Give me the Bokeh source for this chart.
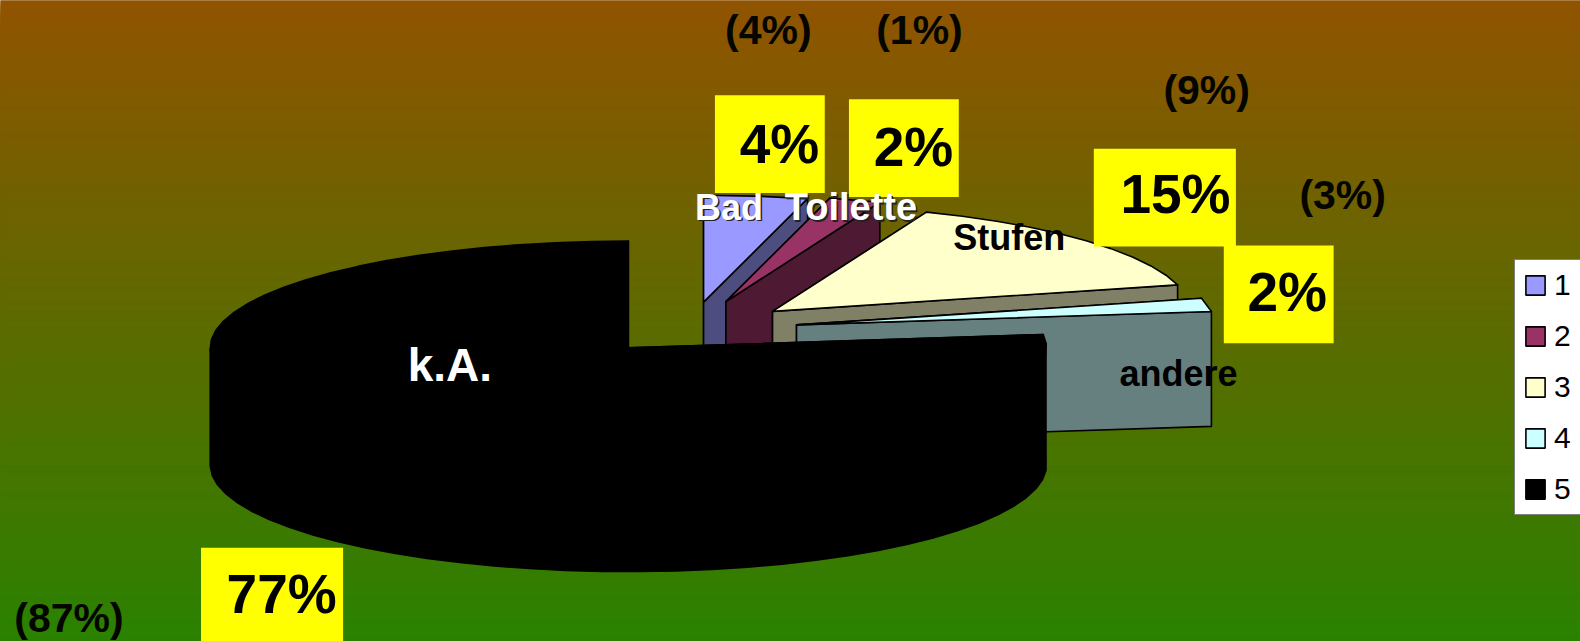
import numpy as np
from bokeh.plotting import figure
from bokeh.models import Range1d, Legend, LegendItem
from bokeh.core.properties import value
from bokeh.embed import file_html
from bokeh.resources import INLINE

# Survey shares: main figure and the figure in brackets
categories = ["Bad", "Toilette", "Stufen", "andere", "k.A."]
legend_keys = ["1", "2", "3", "4", "5"]
shares = [4, 2, 15, 2, 77]
shares_previous = [4, 1, 9, 3, 87]

# Appearance of the slices
top_colors = ["#9999FF", "#993366", "#FFFFCC", "#CCFFFF", "#000000"]
wall_colors = ["#4D4D80", "#4D1933", "#808066", "#668080", "#000000"]
explode = [0.264, 0.28, 0.264, 0.26, 0.222]
depth = [114, 114, 114, 114, 116]

FONT = value("Liberation Sans")
W, H = 1568, 636
CX, CY, RX, RY = 684, 327, 415, 106

p = figure(width=1580, height=641, output_backend="svg", toolbar_location=None,
           x_range=Range1d(0, W), y_range=Range1d(H, 0), min_border=0,
           outline_line_color=None, background_fill_color="#915400",
           border_fill_color="#915400")
p.axis.visible = False
p.grid.visible = False

# Vertical background gradient, brown at the top to green at the bottom;
# each band runs to the foot of the page so no seams show between them
edges = np.linspace(0, H, 129)
c0, c1 = np.array([145, 84, 0]), np.array([42, 130, 0])
mix = (edges[:-1] + edges[1:]) / 2 / H
band_colors = ["#%02x%02x%02x" % tuple(int(v) for v in c0 + (c1 - c0) * m) for m in mix]
band_tops = edges[:-1].copy()
band_tops[0] = -10
p.quad(left=-10, right=W + 10, top=band_tops, bottom=H + 10, fill_color=band_colors, line_color=None)


def arc(ax, ay, a0, a1):
    n = max(2, int(abs(a1 - a0) / np.radians(5)) + 1)
    t = np.linspace(a0, a1, n)
    return ax + RX * np.sin(t), ay - RY * np.cos(t), t


# Exploded 3D pie, clockwise from 12 o'clock and painted back to front
legend_items = []
start = 0.0
total = sum(shares)
for i, share in enumerate(shares):
    a0 = start / total * 2 * np.pi
    a1 = (start + share) / total * 2 * np.pi
    start += share
    mid = (a0 + a1) / 2
    ax = CX + explode[i] * RX * np.sin(mid)
    ay = CY - explode[i] * RY * np.cos(mid)
    xs, ys, ts = arc(ax, ay, a0, a1)
    d = depth[i]
    style = dict(fill_color=wall_colors[i], line_color="black", line_width=1.6, line_join="round")
    # radial walls
    for k in (0, -1):
        p.patch([ax, xs[k], xs[k], ax], [ay, ys[k], ys[k] + d, ay + d], **style)
    # outer wall on the near half of the rim
    front = np.cos(ts) < 0
    if front.any():
        fx, fy = xs[front], ys[front]
        p.patch(np.r_[fx, fx[::-1]], np.r_[fy, fy[::-1] + d], **style)
    top = p.patch(np.r_[ax, xs], np.r_[ay, ys], fill_color=top_colors[i], line_color="black",
                  line_width=1.6, line_join="round")
    legend_items.append(LegendItem(label=legend_keys[i], renderers=[top]))

# Yellow boxes with the main percentages
box_left = [709, 842, 1085, 1214, 199]
box_right = [818, 951, 1226, 1323, 340]
box_top = [94, 98, 147, 243, 543]
box_bottom = [191, 195, 244, 340, 640]
p.quad(left=box_left, right=box_right, top=box_top, bottom=box_bottom,
       fill_color="#FFFF00", line_color=None)
p.text(x=[773, 906, 1166, 1277, 279], y=[142.5, 145.5, 191.5, 289.5, 588.5],
       text=[f"{v}%" for v in shares], text_font=FONT, text_font_style="bold",
       text_font_size="55px", text_color="black", text_align="center", text_baseline="middle")

# Percentages in brackets
p.text(x=[762, 912, 1197, 1332, 68], y=[29.5, 29.5, 88.5, 192.5, 612.5],
       text=[f"({v}%)" for v in shares_previous], text_font=FONT, text_font_style="bold",
       text_font_size="41px", text_color="#050500", text_align="center", text_baseline="middle")

# Slice names; the two on dark and busy ground carry a small shadow
names_x = [723, 844, 1001, 1169, 446]
names_y = [205, 205, 235, 370, 362]
names_color = ["white", "white", "black", "black", "white"]
names_size = ["36px", "38px", "36px", "36px", "46px"]
p.text(x=[v + 1.5 for v in names_x[:2]], y=[v + 1.5 for v in names_y[:2]], text=categories[:2],
       text_font=FONT, text_font_style="bold", text_font_size=names_size[:2], text_color="#222222",
       text_align="center", text_baseline="middle")
p.text(x=names_x, y=names_y, text=categories, text_font=FONT, text_font_style="bold",
       text_font_size=names_size, text_color=names_color,
       text_align="center", text_baseline="middle")

legend = Legend(items=legend_items, location=(1514, 126), orientation="vertical",
                background_fill_color="white", background_fill_alpha=1.0,
                border_line_color="black", border_line_width=1,
                label_text_font="Liberation Sans", label_text_font_size="30px",
                label_text_color="black", glyph_width=24, glyph_height=24,
                label_standoff=7, spacing=17, padding=8, margin=0)
p.add_layout(legend, "center")

open("out.html", "w").write(file_html(p, INLINE))
